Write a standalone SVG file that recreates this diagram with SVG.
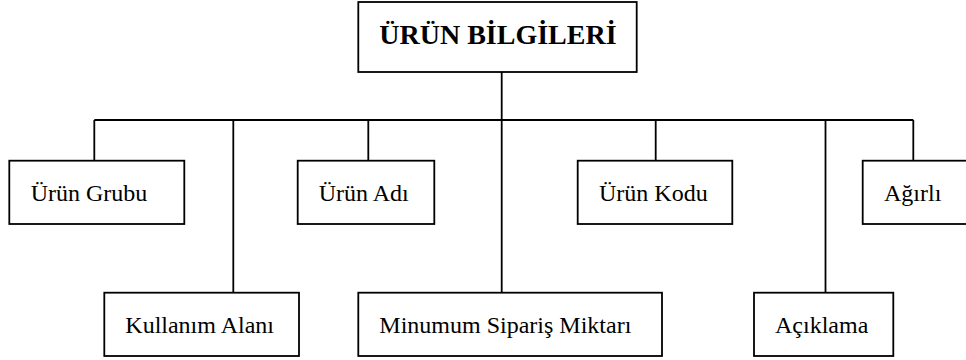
<svg xmlns="http://www.w3.org/2000/svg" width="966" height="360" viewBox="0 0 966 360">
  <style>
    .box { fill: #ffffff; stroke: #000000; stroke-width: 1.8; }
    .wire { fill: none; stroke: #000000; stroke-width: 1.8; }
    text { font-family: 'Liberation Serif', 'Tinos', 'Times New Roman', 'DejaVu Serif', serif; fill: #000000; }
    .label { font-size: 24px; }
    .title { font-size: 28px; font-weight: bold; }
  </style>
  <rect width="966" height="360" fill="#ffffff"/>

  <!-- tree connectors -->
  <g id="connectors">
    <line class="wire" x1="501.7" y1="72" x2="501.7" y2="292.7"/>
    <line class="wire" x1="94.3" y1="120" x2="913.3" y2="120"/>
    <line class="wire" x1="94.3" y1="120" x2="94.3" y2="160.7"/>
    <line class="wire" x1="233.3" y1="120" x2="233.3" y2="292.7"/>
    <line class="wire" x1="368.3" y1="120" x2="368.3" y2="160.7"/>
    <line class="wire" x1="655.7" y1="120" x2="655.7" y2="160.7"/>
    <line class="wire" x1="825.5" y1="120" x2="825.5" y2="292.7"/>
    <line class="wire" x1="913.3" y1="120" x2="913.3" y2="160.7"/>
  </g>

  <!-- root -->
  <g id="urun-bilgileri">
    <rect class="box" x="358.3" y="2" width="278.4" height="70"/>
    <text class="title" x="379.3" y="43.5" font-family="Liberation Serif, serif">ÜRÜN BİLGİLERİ</text>
  </g>

  <!-- first row -->
  <g id="urun-grubu">
    <rect class="box" x="9.3" y="160.7" width="175" height="63.3"/>
    <text class="label" x="30.7" y="201">Ürün Grubu</text>
  </g>
  <g id="urun-adi">
    <rect class="box" x="297.7" y="160.7" width="136.6" height="63.3"/>
    <text class="label" x="318.7" y="201">Ürün Adı</text>
  </g>
  <g id="urun-kodu">
    <rect class="box" x="577.7" y="160.7" width="154.6" height="63.3"/>
    <text class="label" x="599" y="201">Ürün Kodu</text>
  </g>
  <g id="agirlik">
    <rect class="box" x="862.7" y="160.7" width="140" height="63.3"/>
    <text class="label" x="884" y="201">Ağırlı</text>
  </g>

  <!-- second row -->
  <g id="kullanim-alani">
    <rect class="box" x="104.3" y="292.7" width="194.7" height="63.3"/>
    <text class="label" x="125.3" y="332.7">Kullanım Alanı</text>
  </g>
  <g id="minumum-siparis-miktari">
    <rect class="box" x="358.3" y="292.7" width="303.7" height="63.3"/>
    <text class="label" x="379.3" y="332.7">Minumum Sipariş Miktarı</text>
  </g>
  <g id="aciklama">
    <rect class="box" x="754" y="292.7" width="139.3" height="63.3"/>
    <text class="label" x="775" y="332.7">Açıklama</text>
  </g>
</svg>
